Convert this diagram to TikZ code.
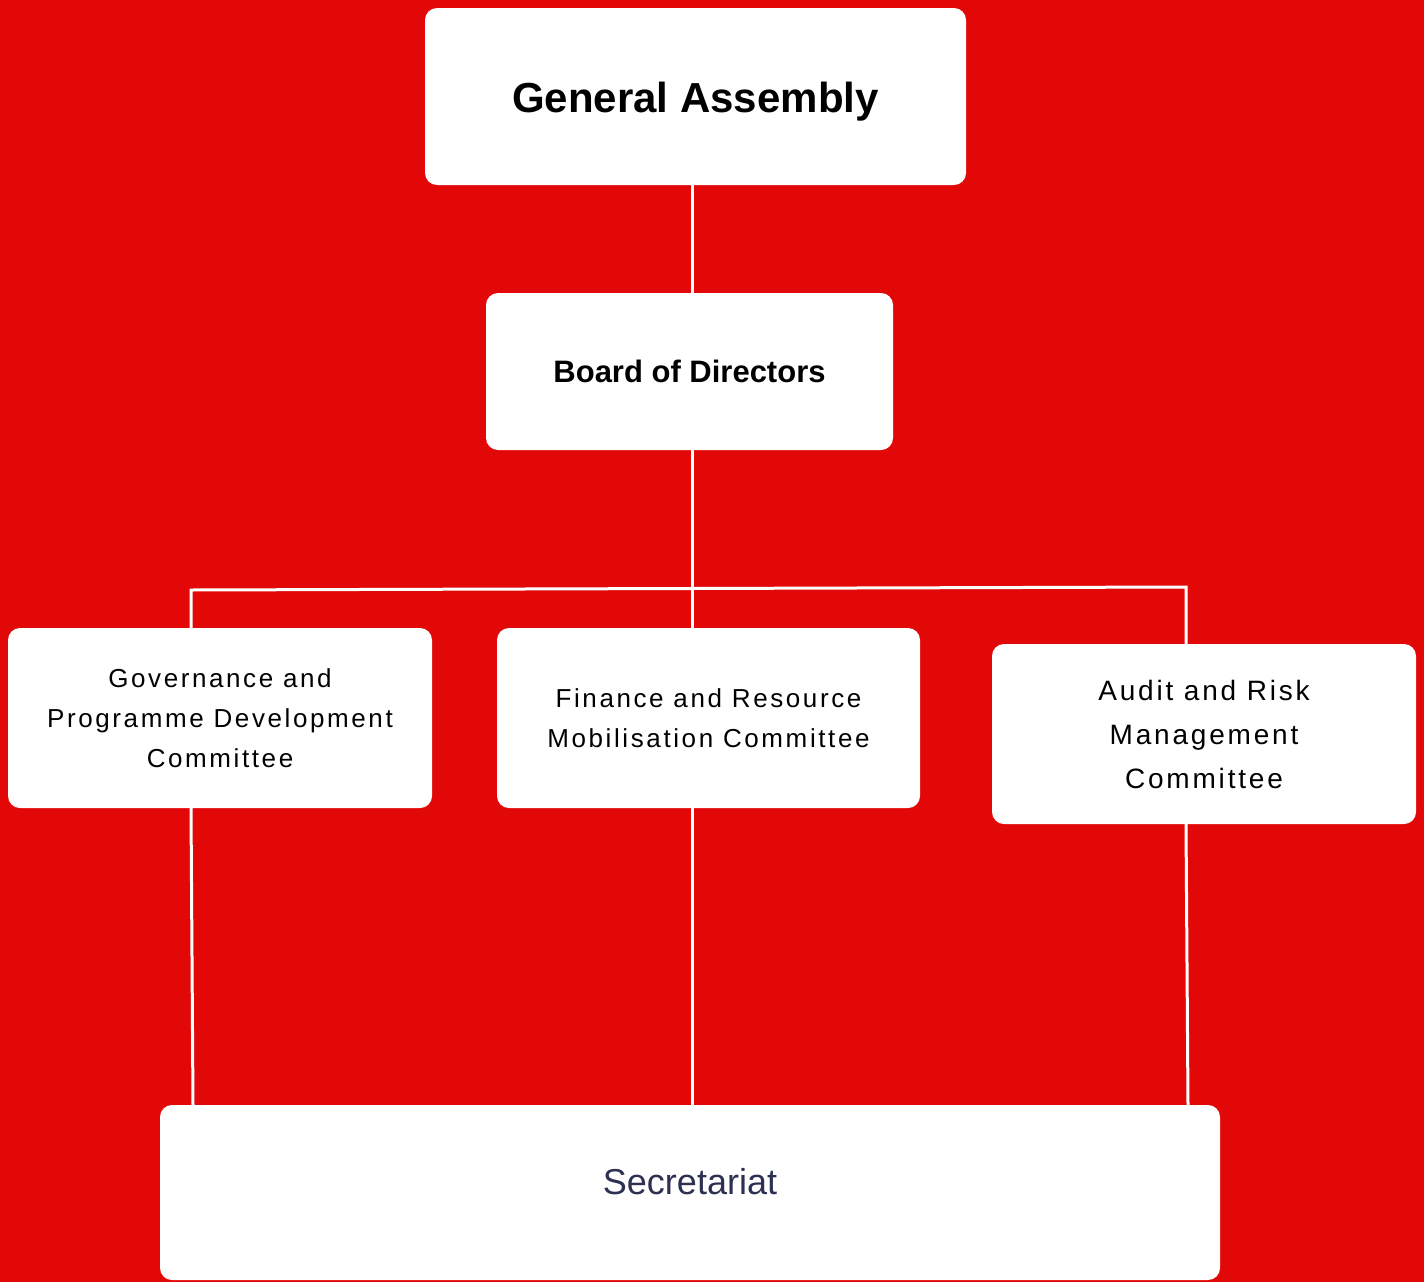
\documentclass[tikz,border=0pt]{standalone}
\usepackage{fontspec}
\setmainfont{Liberation Sans}
\newfontfamily\spacedfont[LetterSpace=10]{Liberation Sans}
\definecolor{bgred}{RGB}{226,8,8}
\definecolor{navy}{RGB}{44,49,82}
\begin{document}
\begin{tikzpicture}[x=1pt,y=-1pt,
  box/.style={draw=none,fill=white,rounded corners=12pt,inner sep=0pt,align=center,text=black},
  committee/.style={box,minimum width=424pt,minimum height=180pt,font={\fontsize{26}{40}\spacedfont}},
  link/.style={draw=white,line width=3pt}]
\fill[bgred] (0,0) rectangle (1424,1282);
\useasboundingbox (0,0) rectangle (1424,1282);

\node[box,minimum width=541pt,minimum height=177pt,text height=31pt,text depth=0pt,font={\fontsize{42}{50}\selectfont\bfseries}] (GA) at (695.5,96.5)
  {General Assembly};
\node[box,minimum width=407pt,minimum height=157pt,font={\fontsize{31}{37}\selectfont\bfseries}] (BoD) at (689.5,371.5)
  {Board of Directors};
\node[committee] (Gov) at (220,718)
  {Governance and\\ Programme Development\\ Committee};
\node[committee,minimum width=423pt] (Fin) at (708.5,718)
  {Finance and Resource\\ Mobilisation Committee};
\node[committee,font={\fontsize{28}{44}\spacedfont}] (Aud) at (1204,734)
  {Audit and Risk\\ Management\\ Committee};
\node[box,minimum width=1060pt,minimum height=175pt,text height=26pt,text depth=23pt,text=navy,font={\fontsize{36}{43}\selectfont}] (Sec) at (690,1192.5)
  {Secretariat};

\coordinate (sp) at (692,0);
\coordinate (hl) at (191,590);
\coordinate (hr) at (1186,587);
\coordinate (bl) at (193,0);
\coordinate (br) at (1188,0);

\draw[link] (sp |- GA.south) -- (sp |- BoD.north);
\draw[link] (sp |- BoD.south) -- (sp |- Fin.north);
\draw[link] (hl |- Gov.north) -- (hl) -- (hr) -- (hr |- Aud.north);
\draw[link] (hl |- Gov.south) -- (bl |- Sec.north);
\draw[link] (sp |- Fin.south) -- (sp |- Sec.north);
\draw[link] (hr |- Aud.south) -- (br |- Sec.north);
\end{tikzpicture}
\end{document}
